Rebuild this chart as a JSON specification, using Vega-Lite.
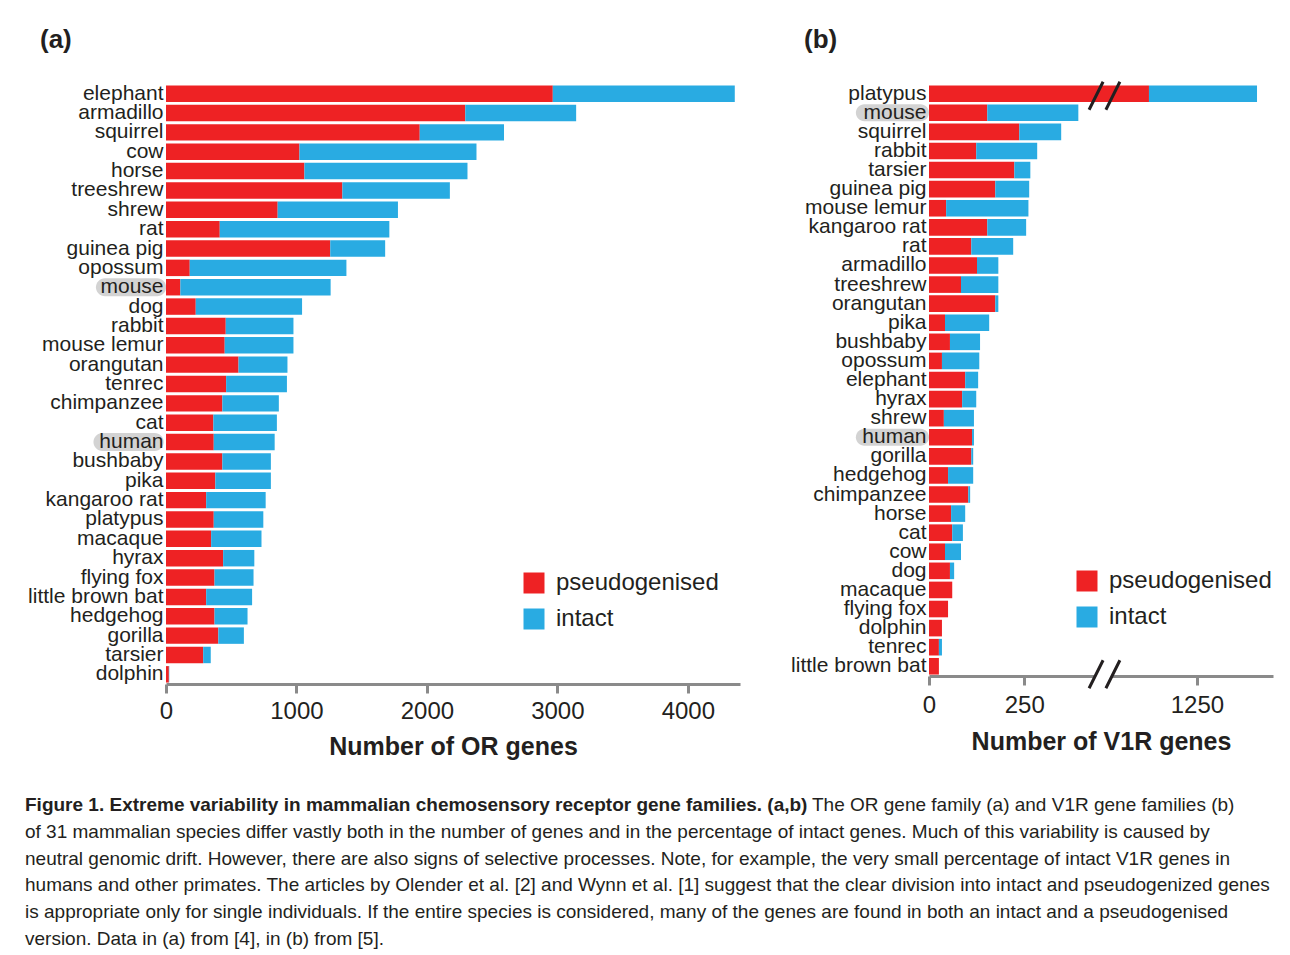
{
  "$schema": "https://vega.github.io/schema/vega-lite/v6.json",
  "background": "white",
  "padding": {"left": 25, "top": 26, "right": 5, "bottom": 0},
  "config": {
    "font": "Liberation Sans",
    "view": {"stroke": null},
    "axis": {"labelColor": "#231f20", "titleColor": "#231f20"},
    "legend": {"labelColor": "#231f20"}
  },
  "datasets": {
    "or": [
      {"species": "elephant", "pseudogenised": 2965, "intact": 1395},
      {"species": "armadillo", "pseudogenised": 2294, "intact": 850},
      {"species": "squirrel", "pseudogenised": 1945, "intact": 646},
      {"species": "cow", "pseudogenised": 1023, "intact": 1357},
      {"species": "horse", "pseudogenised": 1061, "intact": 1250},
      {"species": "treeshrew", "pseudogenised": 1352, "intact": 824},
      {"species": "shrew", "pseudogenised": 856, "intact": 922},
      {"species": "rat", "pseudogenised": 412, "intact": 1300},
      {"species": "guinea pig", "pseudogenised": 1259, "intact": 421},
      {"species": "opossum", "pseudogenised": 182, "intact": 1201},
      {"species": "mouse", "pseudogenised": 110, "intact": 1152},
      {"species": "dog", "pseudogenised": 228, "intact": 815},
      {"species": "rabbit", "pseudogenised": 458, "intact": 519},
      {"species": "mouse lemur", "pseudogenised": 450, "intact": 527},
      {"species": "orangutan", "pseudogenised": 556, "intact": 375},
      {"species": "tenrec", "pseudogenised": 461, "intact": 466},
      {"species": "chimpanzee", "pseudogenised": 432, "intact": 433},
      {"species": "cat", "pseudogenised": 363, "intact": 487},
      {"species": "human", "pseudogenised": 366, "intact": 467},
      {"species": "bushbaby", "pseudogenised": 432, "intact": 372},
      {"species": "pika", "pseudogenised": 378, "intact": 426},
      {"species": "kangaroo rat", "pseudogenised": 308, "intact": 456},
      {"species": "platypus", "pseudogenised": 366, "intact": 380},
      {"species": "macaque", "pseudogenised": 346, "intact": 386},
      {"species": "hyrax", "pseudogenised": 438, "intact": 239},
      {"species": "flying fox", "pseudogenised": 372, "intact": 299},
      {"species": "little brown bat", "pseudogenised": 308, "intact": 352},
      {"species": "hedgehog", "pseudogenised": 372, "intact": 253},
      {"species": "gorilla", "pseudogenised": 401, "intact": 196},
      {"species": "tarsier", "pseudogenised": 285, "intact": 58},
      {"species": "dolphin", "pseudogenised": 22, "intact": 3}
    ],
    "v1r": [
      {"species": "platypus", "pseudogenised": 1124, "intact": 284},
      {"species": "mouse", "pseudogenised": 153, "intact": 239},
      {"species": "squirrel", "pseudogenised": 237, "intact": 110},
      {"species": "rabbit", "pseudogenised": 124, "intact": 160},
      {"species": "tarsier", "pseudogenised": 224, "intact": 42},
      {"species": "guinea pig", "pseudogenised": 174, "intact": 89},
      {"species": "mouse lemur", "pseudogenised": 45, "intact": 216},
      {"species": "kangaroo rat", "pseudogenised": 153, "intact": 102},
      {"species": "rat", "pseudogenised": 111, "intact": 110},
      {"species": "armadillo", "pseudogenised": 126, "intact": 56},
      {"species": "treeshrew", "pseudogenised": 84, "intact": 98},
      {"species": "orangutan", "pseudogenised": 174, "intact": 8},
      {"species": "pika", "pseudogenised": 42, "intact": 116},
      {"species": "bushbaby", "pseudogenised": 55, "intact": 79},
      {"species": "opossum", "pseudogenised": 34, "intact": 98},
      {"species": "elephant", "pseudogenised": 95, "intact": 34},
      {"species": "hyrax", "pseudogenised": 87, "intact": 37},
      {"species": "shrew", "pseudogenised": 39, "intact": 79},
      {"species": "human", "pseudogenised": 113, "intact": 5},
      {"species": "gorilla", "pseudogenised": 111, "intact": 5},
      {"species": "hedgehog", "pseudogenised": 50, "intact": 66},
      {"species": "chimpanzee", "pseudogenised": 103, "intact": 5},
      {"species": "horse", "pseudogenised": 58, "intact": 37},
      {"species": "cat", "pseudogenised": 61, "intact": 28},
      {"species": "cow", "pseudogenised": 42, "intact": 42},
      {"species": "dog", "pseudogenised": 55, "intact": 11},
      {"species": "macaque", "pseudogenised": 61, "intact": 0},
      {"species": "flying fox", "pseudogenised": 50, "intact": 0},
      {"species": "dolphin", "pseudogenised": 34, "intact": 0},
      {"species": "tenrec", "pseudogenised": 26, "intact": 8},
      {"species": "little brown bat", "pseudogenised": 26, "intact": 0}
    ],
    "caption": [
      {"line": 1, "part": "bold", "text": "Figure 1. Extreme variability in mammalian chemosensory receptor gene families. (a,b)"},
      {"line": 1, "part": "rest", "text": "The OR gene family (a) and V1R gene families (b)"},
      {"line": 2, "part": "normal", "text": "of 31 mammalian species differ vastly both in the number of genes and in the percentage of intact genes. Much of this variability is caused by"},
      {"line": 3, "part": "normal", "text": "neutral genomic drift. However, there are also signs of selective processes. Note, for example, the very small percentage of intact V1R genes in"},
      {"line": 4, "part": "normal", "text": "humans and other primates. The articles by Olender et al. [2] and Wynn et al. [1] suggest that the clear division into intact and pseudogenized genes"},
      {"line": 5, "part": "normal", "text": "is appropriate only for single individuals. If the entire species is considered, many of the genes are found in both an intact and a pseudogenised"},
      {"line": 6, "part": "normal", "text": "version. Data in (a) from [4], in (b) from [5]."}
    ]
  },
  "spacing": 33,
  "vconcat": [
    {
      "spacing": 50,
      "resolve": {"scale": {"x": "independent", "y": "independent", "color": "independent"}, "legend": {"color": "independent"}},
      "hconcat": [
        {
          "width": 574,
          "height": 600,
          "layer": [
            {
              "data": {"values": [{}]},
              "mark": {"type": "text", "text": "(a)", "align": "left", "baseline": "middle", "fontSize": 26, "fontWeight": "bold", "color": "#231f20", "yOffset": -54},
              "encoding": {"x": {"datum": -966, "type": "quantitative"}, "y": {"datum": "elephant", "type": "nominal"}}
            },
            {
              "data": {"values": [{}]},
              "mark": {"type": "point", "shape": "M -2.9 -1 L 2.9 -1 A 1 1 0 0 1 2.9 1 L -2.9 1 A 1 1 0 0 1 -2.9 -1 Z", "filled": true, "fill": "#d3d3d3", "opacity": 1, "size": 324, "strokeWidth": 0},
              "encoding": {"x": {"datum": -268, "type": "quantitative"}, "y": {"datum": "mouse", "type": "nominal"}}
            },
            {
              "data": {"values": [{}]},
              "mark": {"type": "point", "shape": "M -2.9 -1 L 2.9 -1 A 1 1 0 0 1 2.9 1 L -2.9 1 A 1 1 0 0 1 -2.9 -1 Z", "filled": true, "fill": "#d3d3d3", "opacity": 1, "size": 324, "strokeWidth": 0},
              "encoding": {"x": {"datum": -287, "type": "quantitative"}, "y": {"datum": "human", "type": "nominal"}}
            },
            {
              "data": {"name": "or"},
              "transform": [{"fold": ["pseudogenised", "intact"], "as": ["type", "n"]}],
              "mark": {"type": "bar"},
              "encoding": {
                "x": {"field": "n", "type": "quantitative", "stack": "zero",
                  "scale": {"domain": [0, 4400], "nice": false, "zero": false},
                  "axis": {"title": "Number of OR genes", "values": [0, 1000, 2000, 3000, 4000], "format": "d", "labelFlush": false, "grid": false, "domainColor": "#8a8a8a", "domainWidth": 3, "tickColor": "#8a8a8a", "tickWidth": 3, "tickSize": 9, "labelFontSize": 24, "labelPadding": 6, "titleFontSize": 25, "titleFontWeight": "bold", "titlePadding": 11, "zindex": 0}},
                "y": {"field": "species", "type": "nominal", "sort": null,
                  "scale": {"domain": ["elephant","armadillo","squirrel","cow","horse","treeshrew","shrew","rat","guinea pig","opossum","mouse","dog","rabbit","mouse lemur","orangutan","tenrec","chimpanzee","cat","human","bushbaby","pika","kangaroo rat","platypus","macaque","hyrax","flying fox","little brown bat","hedgehog","gorilla","tarsier","dolphin"], "paddingInner": 0.15, "paddingOuter": 0.075},
                  "axis": {"title": null, "ticks": false, "domain": false, "labelFontSize": 21, "labelPadding": 3, "zindex": 1}},
                "color": {"field": "type", "type": "nominal",
                  "scale": {"domain": ["pseudogenised", "intact"], "range": ["#ee2224", "#29abe2"]},
                  "legend": {"title": null, "orient": "none", "legendX": 356, "legendY": 487, "symbolType": "square", "symbolSize": 441, "symbolStrokeWidth": 0, "symbolOpacity": 1, "labelFontSize": 24, "labelLimit": 400, "rowPadding": 12, "labelOffset": 10, "padding": 0}},
                "order": {"field": "type", "sort": "descending"}
              }
            }
          ]
        },
        {
          "width": 344,
          "height": 592,
          "layer": [
            {
              "data": {"values": [{}]},
              "mark": {"type": "text", "text": "(b)", "align": "left", "baseline": "middle", "fontSize": 26, "fontWeight": "bold", "color": "#231f20", "yOffset": -54},
              "encoding": {"x": {"datum": -328, "type": "quantitative"}, "y": {"datum": "platypus", "type": "nominal"}}
            },
            {
              "data": {"values": [{}]},
              "mark": {"type": "point", "shape": "M -3.3 -1 L 3.3 -1 A 1 1 0 0 1 3.3 1 L -3.3 1 A 1 1 0 0 1 -3.3 -1 Z", "filled": true, "fill": "#d3d3d3", "opacity": 1, "size": 289, "strokeWidth": 0},
              "encoding": {"x": {"datum": -96, "type": "quantitative"}, "y": {"datum": "mouse", "type": "nominal"}}
            },
            {
              "data": {"values": [{}]},
              "mark": {"type": "point", "shape": "M -3.3 -1 L 3.3 -1 A 1 1 0 0 1 3.3 1 L -3.3 1 A 1 1 0 0 1 -3.3 -1 Z", "filled": true, "fill": "#d3d3d3", "opacity": 1, "size": 289, "strokeWidth": 0},
              "encoding": {"x": {"datum": -96, "type": "quantitative"}, "y": {"datum": "human", "type": "nominal"}}
            },
            {
              "data": {"name": "v1r"},
              "transform": [{"fold": ["pseudogenised", "intact"], "as": ["type", "n"]}],
              "mark": {"type": "bar"},
              "encoding": {
                "x": {"field": "n", "type": "quantitative", "stack": "zero",
                  "scale": {"domain": [0, 420, 1040, 1450], "range": [0, 160, 188, 344], "nice": false, "zero": false},
                  "axis": {"title": "Number of V1R genes", "values": [0, 250, 1250], "format": "d", "labelFlush": false, "grid": false, "domainColor": "#8a8a8a", "domainWidth": 3, "tickColor": "#8a8a8a", "tickWidth": 3, "tickSize": 9, "labelFontSize": 24, "labelPadding": 8, "titleFontSize": 25, "titleFontWeight": "bold", "titlePadding": 12, "zindex": 0}},
                "y": {"field": "species", "type": "nominal", "sort": null,
                  "scale": {"domain": ["platypus","mouse","squirrel","rabbit","tarsier","guinea pig","mouse lemur","kangaroo rat","rat","armadillo","treeshrew","orangutan","pika","bushbaby","opossum","elephant","hyrax","shrew","human","gorilla","hedgehog","chimpanzee","horse","cat","cow","dog","macaque","flying fox","dolphin","tenrec","little brown bat"], "paddingInner": 0.13, "paddingOuter": 0.075},
                  "axis": {"title": null, "ticks": false, "domain": false, "labelFontSize": 21, "labelPadding": 3, "zindex": 1}},
                "color": {"field": "type", "type": "nominal",
                  "scale": {"domain": ["pseudogenised", "intact"], "range": ["#ee2224", "#29abe2"]},
                  "legend": {"title": null, "orient": "none", "legendX": 146, "legendY": 485, "symbolType": "square", "symbolSize": 441, "symbolStrokeWidth": 0, "symbolOpacity": 1, "labelFontSize": 24, "labelLimit": 400, "rowPadding": 12, "labelOffset": 10, "padding": 0}},
                "order": {"field": "type", "sort": "descending"}
              }
            },
            {
              "data": {"values": [{}]},
              "mark": {"type": "point", "shape": "M -1.1 1 L -0.1 -1 L 1.1 -1 L 0.1 1 Z", "filled": true, "fill": "white", "opacity": 1, "size": 784, "strokeWidth": 0, "yOffset": 8},
              "encoding": {"x": {"datum": 763, "type": "quantitative"}, "y": {"datum": "little brown bat", "type": "nominal"}}
            },
            {
              "data": {"values": [{}]},
              "mark": {"type": "point", "shape": "M -1.1 1 L -0.1 -1 M 0.1 1 L 1.1 -1", "filled": false, "stroke": "#231f20", "strokeWidth": 3, "opacity": 1, "size": 784, "yOffset": 8},
              "encoding": {"x": {"datum": 763, "type": "quantitative"}, "y": {"datum": "little brown bat", "type": "nominal"}}
            },
            {
              "data": {"values": [{}]},
              "mark": {"type": "point", "shape": "M -1.1 1 L -0.1 -1 M 0.1 1 L 1.1 -1", "filled": false, "stroke": "#231f20", "strokeWidth": 3, "opacity": 1, "size": 784, "yOffset": 2},
              "encoding": {"x": {"datum": 763, "type": "quantitative"}, "y": {"datum": "platypus", "type": "nominal"}}
            }
          ]
        }
      ]
    },
    {
      "width": 1255,
      "height": 160,
      "data": {"name": "caption"},
      "layer": [
        {
          "transform": [{"filter": "datum.part === 'bold'"}],
          "mark": {"type": "text", "align": "left", "baseline": "middle", "fontSize": 19, "fontWeight": "bold", "color": "#231f20"},
          "encoding": {"y": {"field": "line", "type": "ordinal", "axis": null, "scale": {"type": "point", "padding": 0.5}}, "x": {"value": -141}, "text": {"field": "text"}}
        },
        {
          "transform": [{"filter": "datum.part === 'rest'"}],
          "mark": {"type": "text", "align": "left", "baseline": "middle", "fontSize": 19, "color": "#231f20", "dx": 787},
          "encoding": {"y": {"field": "line", "type": "ordinal", "axis": null}, "x": {"value": -141}, "text": {"field": "text"}}
        },
        {
          "transform": [{"filter": "datum.part === 'normal'"}],
          "mark": {"type": "text", "align": "left", "baseline": "middle", "fontSize": 19, "color": "#231f20"},
          "encoding": {"y": {"field": "line", "type": "ordinal", "axis": null}, "x": {"value": -141}, "text": {"field": "text"}}
        }
      ]
    }
  ]
}
